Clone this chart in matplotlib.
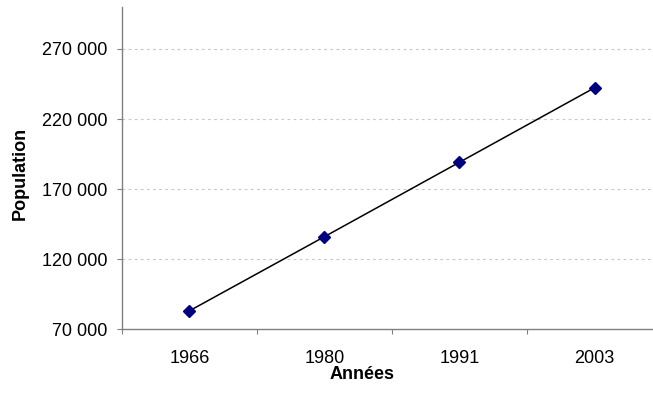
import numpy as np
import matplotlib.pyplot as plt
from matplotlib.ticker import FuncFormatter

# Population par année de recensement
annees = ['1966', '1980', '1991', '2003']
population = [83200, 136100, 189200, 242300]

y_ticks = [70000, 120000, 170000, 220000, 270000]

plt.rcParams['font.family'] = ['Liberation Sans', 'DejaVu Sans']

fig = plt.figure(figsize=(6.53, 3.98), dpi=100)
ax = fig.add_axes([0.1868, 0.1726, 0.827, 0.810])

x = np.arange(len(annees))
ax.plot(x, population, color='black', linewidth=1.1, marker='D',
        markersize=6.5, markerfacecolor='#000080', markeredgecolor='#000080', zorder=3)

ax.set_xlim(-0.5, len(annees) - 0.5)
ax.set_ylim(70000, 300000)

ax.set_xticks(x)
ax.set_xticklabels(annees)
ax.set_xticks(np.arange(-0.5, len(annees), 1.0), minor=True)
ax.tick_params(axis='x', which='major', length=0, pad=15, labelsize=13)
ax.tick_params(axis='x', which='minor', length=3.6, width=0.8, color='#808080', direction='out')

ax.set_yticks(y_ticks)
ax.yaxis.set_major_formatter(FuncFormatter(lambda v, p: f'{int(v):,}'.replace(',', ' ')))
ax.tick_params(axis='y', length=3.6, width=0.8, color='#808080', labelsize=13, pad=7)

for v in y_ticks[1:]:
    ax.axhline(v, color='#c8c8c8', linestyle=(0, (2.5, 3)), linewidth=0.8, zorder=1)

for s in ['top', 'right']:
    ax.spines[s].set_visible(False)
for s in ['left', 'bottom']:
    ax.spines[s].set_color('#808080')
    ax.spines[s].set_linewidth(1.0)

fig.text(0.0306, 0.565, 'Population', fontsize=13, fontweight='bold',
         rotation=90, ha='center', va='center')
fig.text(0.555, 0.0603, 'Années', fontsize=13, fontweight='bold',
         ha='center', va='center')

fig.savefig('out.png', dpi=100)
